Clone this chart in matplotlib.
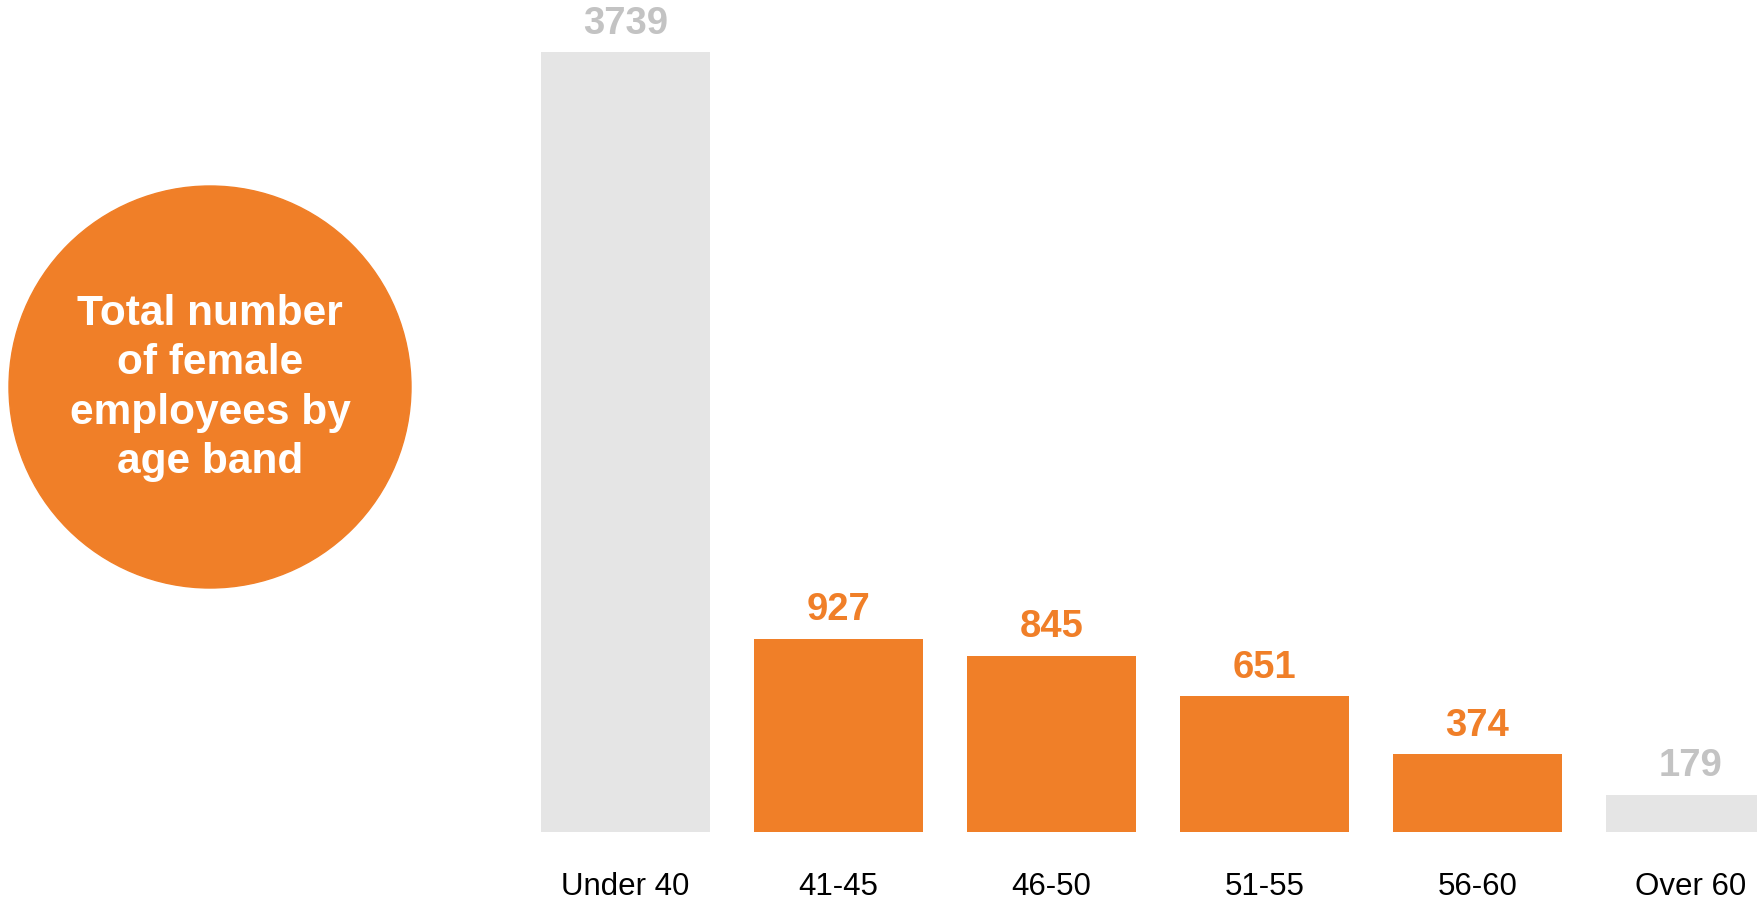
"""
Female employees by age band: bar chart with a circular title badge.
"""
import matplotlib
matplotlib.use("Agg")
import matplotlib.pyplot as plt
from matplotlib.patches import Circle

# Data

AGE_BANDS = ["Under 40", "41-45", "46-50", "51-55", "56-60", "Over 60"]
EMPLOYEES = [3739, 927, 845, 651, 374, 179]
HIGHLIGHT = [False, True, True, True, True, False]

TITLE = "Total number\nof female\nemployees by\nage band"

# Style

ORANGE = "#F07F28"
GREY_BAR = "#E5E5E5"
GREY_TEXT = "#C3C3C3"
FONT = "Liberation Sans"

W, H, DPI = 1757, 903, 100


def main():
    plt.rcParams["font.family"] = [FONT, "DejaVu Sans"]
    fig = plt.figure(figsize=(W / DPI, H / DPI), dpi=DPI)

    # bar axes, placed in pixel terms
    ax = fig.add_axes([500 / W, (H - 833) / H, (W - 500) / W, 833 / H])
    x = list(range(len(AGE_BANDS)))
    colors = [ORANGE if h else GREY_BAR for h in HIGHLIGHT]
    ax.bar(x, EMPLOYEES, width=169 / 213, color=colors)

    pitch = 213
    ax.set_xlim((500 - 625.5) / pitch, (W - 625.5) / pitch)
    ax.set_ylim(0, 3739 * 833 / 780)

    for xi, v, h in zip(x, EMPLOYEES, HIGHLIGHT):
        ax.annotate(
            str(v), (xi, v), xytext=(0, 14), textcoords="offset points",
            ha="center", va="baseline", fontsize=27.5, fontweight="bold",
            color=ORANGE if h else GREY_TEXT, annotation_clip=False,
        )

    ax.set_xticks(x)
    ax.set_xticklabels(AGE_BANDS, fontsize=22.5, color="black")
    ax.tick_params(axis="x", length=0, pad=28)
    ax.set_yticks([])
    for s in ax.spines.values():
        s.set_visible(False)

    # circle badge
    cax = fig.add_axes([9 / W, 314 / H, 402 / W, 402 / H])
    cax.set_xlim(-1, 1)
    cax.set_ylim(-1, 1)
    cax.axis("off")
    cax.add_patch(Circle((0, 0), 1, color=ORANGE, clip_on=False))
    cax.text(0, 0.0, TITLE, ha="center", va="center", color="white",
             fontsize=30.5, fontweight="bold", linespacing=1.3)

    fig.savefig("out.png", dpi=DPI)
    plt.close(fig)


if __name__ == "__main__":
    main()
